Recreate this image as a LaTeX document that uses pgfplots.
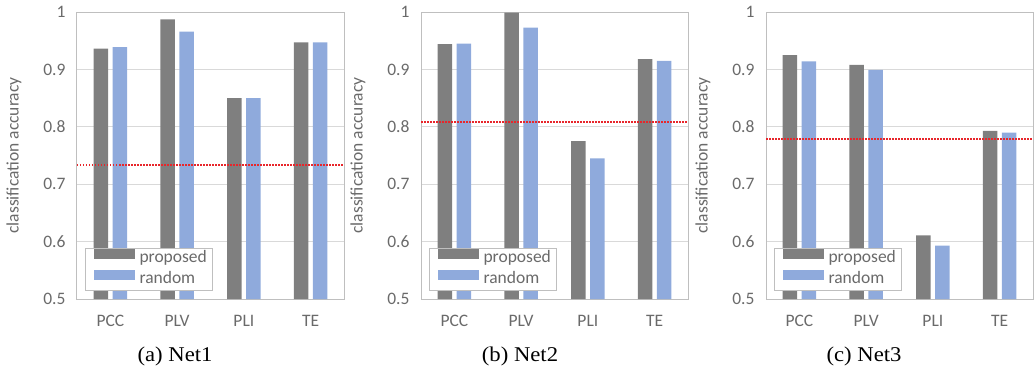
\documentclass[border=0pt]{standalone}
\usepackage{fontspec}
\setmainfont{Liberation Serif}
\newfontfamily\chartfont{Carlito}
\usepackage{pgfplots}
\pgfplotsset{compat=1.18}
\definecolor{propgray}{HTML}{7F7F7F}
\definecolor{randblue}{HTML}{8FAADC}
\definecolor{gridgray}{HTML}{D9D9D9}
\definecolor{framegray}{HTML}{BFBFBF}
\definecolor{textgray}{HTML}{6A6A6A}
\definecolor{dotred}{HTML}{E8262B}
\pgfplotsset{
  netaxis/.style={
    scale only axis, width=267pt, height=287pt, anchor=south west,
    ybar, bar width=14.5pt,
    xmin=-0.5, xmax=3.5, ymin=0.5, ymax=1,
    xtick={0,1,2,3}, xticklabels={PCC,PLV,PLI,TE},
    ytick={0.5,0.6,0.7,0.8,0.9,1}, yticklabels={0.5,0.6,0.7,0.8,0.9,1},
    ymajorgrids, grid style={draw=gridgray, line width=1pt},
    axis line style={draw=framegray, line width=1pt},
    major tick length=0pt,
    tick label style={font=\chartfont\fontsize{17.5}{20}\selectfont, text=textgray},
    xticklabel style={yshift=-13pt},
    yticklabel style={xshift=-8pt},
    ylabel={classification accuracy},
    every axis y label/.style={at={(axis description cs:-0.236,0.5)}, rotate=90, anchor=center,
      font=\chartfont\fontsize{17.5}{20}\selectfont, text=textgray},
    legend style={at={(axis description cs:0.03,0.028)}, anchor=south west,
      draw=framegray, line width=1pt, fill=white,
      font=\chartfont\fontsize{17.5}{20}\selectfont, text=textgray,
      inner xsep=3pt, inner ysep=0pt, row sep=1pt, column sep=2pt,
      nodes={inner xsep=3pt, inner ysep=2.5pt, text height=11.5pt, text depth=4pt}},
    legend cell align=left,
    legend image code/.code={\path (0pt,5pt); \fill[##1] (5pt,0pt) rectangle (46pt,10pt);},
  },
  propbar/.style={fill=propgray, draw=none, bar shift=-9.4pt},
  randbar/.style={fill=randblue, draw=none, bar shift=9.4pt},
  baseline/.style={sharp plot, draw=dotred, line width=2pt, dash pattern=on 1.5pt off 1.5pt, forget plot},
}
\begin{document}
\begin{tikzpicture}
\useasboundingbox (0,0) rectangle (1034pt,-366pt);
% Net1
\begin{axis}[netaxis, at={(77pt,-299pt)}]
\addplot[propbar] coordinates {(0,0.936) (1,0.987) (2,0.850) (3,0.947)};
\addplot[randbar] coordinates {(0,0.939) (1,0.966) (2,0.850) (3,0.947)};
\addplot[baseline] coordinates {(-0.5,0.734) (3.5,0.734)};
\legend{proposed,random}
\end{axis}
% Net2
\begin{axis}[netaxis, at={(421pt,-299pt)}]
\addplot[propbar] coordinates {(0,0.944) (1,0.999) (2,0.775) (3,0.918)};
\addplot[randbar] coordinates {(0,0.945) (1,0.973) (2,0.745) (3,0.915)};
\addplot[baseline] coordinates {(-0.5,0.809) (3.5,0.809)};
\legend{proposed,random}
\end{axis}
% Net3
\begin{axis}[netaxis, at={(766pt,-299pt)}]
\addplot[propbar] coordinates {(0,0.925) (1,0.908) (2,0.611) (3,0.793)};
\addplot[randbar] coordinates {(0,0.914) (1,0.899) (2,0.593) (3,0.790)};
\addplot[baseline] coordinates {(-0.5,0.779) (3.5,0.779)};
\legend{proposed,random}
\end{axis}
\node[anchor=base, xscale=1.08, font=\fontsize{21}{24}\selectfont] at (175pt,-361pt) {(a) Net1};
\node[anchor=base, xscale=1.08, font=\fontsize{21}{24}\selectfont] at (520pt,-361pt) {(b) Net2};
\node[anchor=base, xscale=1.08, font=\fontsize{21}{24}\selectfont] at (864pt,-361pt) {(c) Net3};
\end{tikzpicture}
\end{document}
